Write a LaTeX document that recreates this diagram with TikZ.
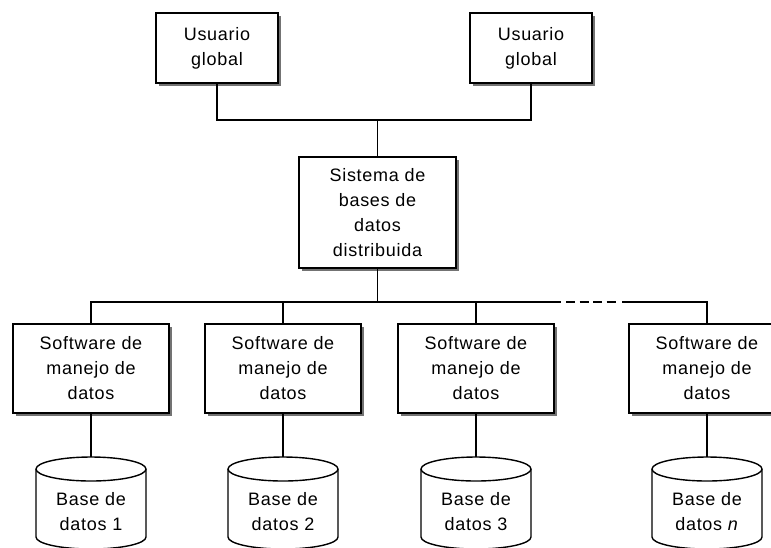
\documentclass[tikz,border=0pt]{standalone}
\usepackage{fontspec}
\setmainfont{Liberation Sans}[LetterSpace=4]
\usetikzlibrary{shadows}

\tikzset{
  link/.style={line width=1.4pt},
  box/.style={draw, line width=1.4pt, fill=white, align=center, inner sep=0pt,
    font=\fontsize{18}{25}\selectfont,
    drop shadow={shadow xshift=3pt, shadow yshift=-3pt, fill=black!55, opacity=1}},
  userbox/.style={box, minimum width=122pt, minimum height=70pt},
  sysbox/.style={box, minimum width=157pt, minimum height=111pt},
  softbox/.style={box, minimum width=156pt, minimum height=89pt},
  dblabel/.style={align=center, inner sep=0pt, font=\fontsize{18}{25}\selectfont},
}

% database drum: name, centre x, label
\newcommand\datadrum[3]{%
  \draw[link, fill=white] (#2-55,-469) -- (#2-55,-537)
    arc[start angle=180, end angle=360, x radius=55, y radius=12]
    -- (#2+55,-469)
    arc[start angle=0, end angle=180, x radius=55, y radius=12] -- cycle;
  \draw[link] (#2-55,-469) arc[start angle=180, end angle=360, x radius=55, y radius=12];
  \coordinate (#1) at (#2,-457);
  \node[dblabel] (#1label) at (#2,-512) {#3};
}

\begin{document}
\begin{tikzpicture}[x=1pt, y=1pt]
  \useasboundingbox (0,-547) rectangle (771,0);
  \fill[white] (0,-547) rectangle (771,0);
  \clip (0,-547) rectangle (771,0);

  % users
  \node[userbox] (u1) at (217,-48) {Usuario\\global};
  \node[userbox] (u2) at (531,-48) {Usuario\\global};

  % distributed system
  \node[sysbox] (sys) at (377.5,-212.5) {Sistema de\\bases de\\datos\\distribuida};

  % data managers
  \node[softbox] (s1) at (91,-368.5)  {Software de\\manejo de\\datos};
  \node[softbox] (s2) at (283,-368.5) {Software de\\manejo de\\datos};
  \node[softbox] (s3) at (476,-368.5) {Software de\\manejo de\\datos};
  \node[softbox] (s4) at (707,-368.5) {Software de\\manejo de\\datos};

  % databases
  \datadrum{d1}{91}{Base de\\datos 1}
  \datadrum{d2}{283}{Base de\\datos 2}
  \datadrum{d3}{476}{Base de\\datos 3}
  \datadrum{d4}{707}{Base de\\datos \textit{n}}

  % upper connectors
  \coordinate (topbar) at (377.5,-120);
  \draw[link] (u1.south) |- (topbar) -| (u2.south);
  \draw[link] (topbar) -- (sys.north);

  % lower bus
  \coordinate (gapL) at (561,-302);
  \coordinate (dashA) at (566,-302);
  \coordinate (dashB) at (615.5,-302);
  \coordinate (gapR) at (622,-302);
  \draw[link] (s1.north) |- (gapL);
  \draw[link] (sys.south) -- (sys.south |- gapL);
  \draw[link] (s2.north) -- (s2.north |- gapL);
  \draw[link] (s3.north) -- (s3.north |- gapL);
  \draw[link, dash pattern=on 9pt off 4.5pt] (dashA) -- (dashB);
  \draw[link] (gapR) -| (s4.north);

  % manager to database
  \draw[link] (s1.south) -- (d1);
  \draw[link] (s2.south) -- (d2);
  \draw[link] (s3.south) -- (d3);
  \draw[link] (s4.south) -- (d4);
\end{tikzpicture}
\end{document}
